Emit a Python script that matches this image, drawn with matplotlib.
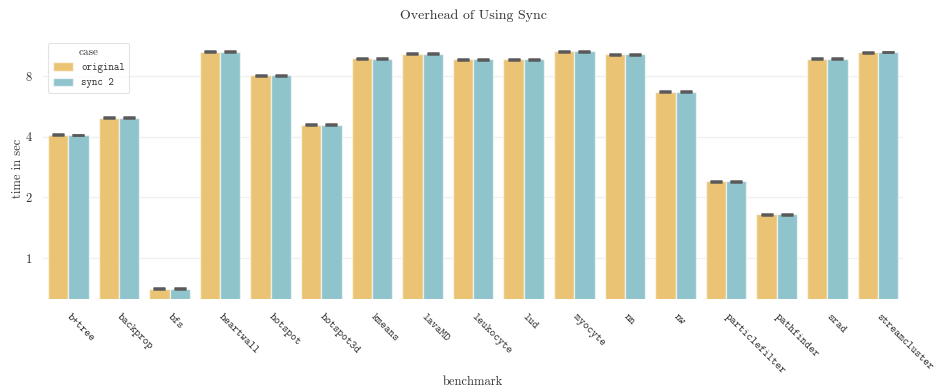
import numpy as np
import matplotlib
matplotlib.use("Agg")
import matplotlib.pyplot as plt
from matplotlib.ticker import FixedLocator, FixedFormatter, NullLocator

plt.rcParams["axes.formatter.use_mathtext"] = True
plt.rcParams["mathtext.fontset"] = "cm"

benchmarks = ["b+tree", "backprop", "bfs", "heartwall", "hotspot", "hotspot3d",
              "kmeans", "lavaMD", "leukocyte", "lud", "myocyte", "nn", "nw",
              "particlefilter", "pathfinder", "srad", "streamcluster"]
cases = ["original", "sync 2"]

original = [4.09, 4.97, 0.704, 10.56, 8.06, 4.59, 9.79, 10.32, 9.71, 9.71,
            10.61, 10.28, 6.69, 2.40, 1.65, 9.75, 10.52]
sync2 = [4.08, 4.97, 0.704, 10.55, 8.06, 4.59, 9.78, 10.31, 9.70, 9.71,
         10.62, 10.27, 6.69, 2.40, 1.65, 9.74, 10.53]
original_err = [0.02, 0.02, 0.004, 0.05, 0.04, 0.02, 0.05, 0.05, 0.05, 0.05,
                0.05, 0.05, 0.03, 0.012, 0.008, 0.05, 0.05]
sync2_err = [0.02, 0.02, 0.004, 0.05, 0.04, 0.02, 0.05, 0.05, 0.05, 0.05,
             0.05, 0.05, 0.03, 0.012, 0.008, 0.05, 0.05]

colors = ["#ebc375", "#8fc4cc"]
serif = "cmr10"
mono = "cmtt10"
text_col = "#333333"

fig = plt.figure(figsize=(9.35, 3.89), dpi=100)
ax = fig.add_axes([0.046, 0.2306, 0.92, 0.6714])

x = np.arange(len(benchmarks))
width = 0.4
series = [(original, original_err), (sync2, sync2_err)]
for i, ((vals, errs), col, name) in enumerate(zip(series, colors, cases)):
    pos = x + (i - 0.5) * width
    ax.bar(pos, vals, width=width, color=col, edgecolor=(1, 1, 1, 0.6),
           linewidth=1.0, label=name, zorder=2)
    ax.errorbar(pos, vals, yerr=errs, fmt="none", ecolor="#5a5a5a",
                elinewidth=1.8, capsize=4.0, capthick=1.8, zorder=3)

ax.set_yscale("log", base=2)
ax.set_ylim(0.624, 12.35)
ax.set_xlim(-0.5, len(benchmarks) - 0.5)

ax.yaxis.set_major_locator(FixedLocator([1, 2, 4, 8]))
ax.yaxis.set_major_formatter(FixedFormatter(["1", "2", "4", "8"]))
ax.yaxis.set_minor_locator(NullLocator())
ax.grid(axis="y", color="#f0f0f0", linewidth=1.0, zorder=0)
ax.set_axisbelow(True)
for s in ax.spines.values():
    s.set_visible(False)
ax.tick_params(axis="both", length=0)
ax.tick_params(axis="y", pad=8)

for lbl in ax.get_yticklabels():
    lbl.set_fontfamily(serif)
    lbl.set_fontsize(9)
    lbl.set_color(text_col)

ax.set_xticks(x)
ax.set_xticklabels(benchmarks, rotation=-45, ha="left", va="center",
                   rotation_mode="anchor", fontfamily=mono, fontsize=8,
                   color=text_col)
ax.tick_params(axis="x", pad=12)

ax.set_xlabel("benchmark", fontfamily=serif, fontsize=9, color=text_col)
ax.xaxis.set_label_coords(0.5, -0.292)
ax.set_ylabel("time in sec", fontfamily=serif, fontsize=9, color=text_col,
              labelpad=1)
ax.set_title("Overhead of Using Sync", fontfamily=serif, fontsize=10,
             color=text_col, pad=14)

leg = ax.legend(title="case", loc="upper left", bbox_to_anchor=(0.006, 0.981),
                borderaxespad=0, prop={"family": mono, "size": 7.5},
                frameon=True, handlelength=1.9, handleheight=0.9,
                borderpad=0.45, labelspacing=0.45, handletextpad=0.8)
leg.get_title().set_fontfamily(serif)
leg.get_title().set_fontsize(8)
leg.get_title().set_color(text_col)
leg.get_frame().set_edgecolor("#dddddd")
leg.get_frame().set_linewidth(0.8)
for t in leg.get_texts():
    t.set_color(text_col)

fig.savefig("out.png", dpi=100, facecolor="white")
